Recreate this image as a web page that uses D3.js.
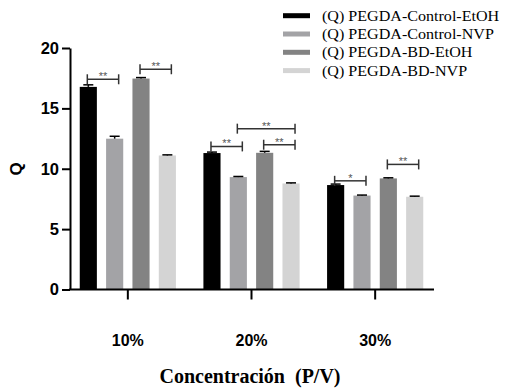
<!DOCTYPE html>
<html><head><meta charset="utf-8">
<script src="https://cdn.jsdelivr.net/npm/d3@7"></script>
<style>body{margin:0;background:#fff}</style>
</head><body>
<svg id="c" width="505" height="388"></svg>
<script>
const categories = ["10%", "20%", "30%"];
const seriesNames = ["(Q) PEGDA-Control-EtOH", "(Q) PEGDA-Control-NVP", "(Q) PEGDA-BD-EtOH", "(Q) PEGDA-BD-NVP"];
const seriesColors = ["#000000", "#a3a3a6", "#838383", "#d4d4d4"];
const controlEtOH = [16.78, 11.30, 8.65];
const controlNVP  = [12.49, 9.31, 7.78];
const bdEtOH      = [17.47, 11.32, 9.20];
const bdNVP       = [11.10, 8.78, 7.68];
const errEtOH     = [0.17, 0.08, 0.08];
const errCNVP     = [0.20, 0.05, 0.04];
const errBdEtOH   = [0.08, 0.12, 0.05];
const errBdNVP    = [0.05, 0.05, 0.05];
const yTicks = [0, 5, 10, 15, 20];
// significance brackets: category index, from series, to series, height (Q), label
const bracketCat  = [0, 0, 1, 1, 1, 2, 2];
const bracketFrom = [0, 2, 0, 1, 2, 0, 2];
const bracketTo   = [1, 3, 1, 3, 3, 1, 3];
const bracketY    = [17.41, 18.24, 11.85, 13.32, 11.99, 9.0, 10.36];
const bracketLbl  = ["**", "**", "**", "**", "**", "*", "**"];

const values = [controlEtOH, controlNVP, bdEtOH, bdNVP];
const errors = [errEtOH, errCNVP, errBdEtOH, errBdNVP];

const svg = d3.select("#c");
const y = d3.scaleLinear().domain([0, 20]).range([289.5, 48]);
const x = d3.scaleBand().domain(categories).range([66, 437]).padding(0);
const xs = d3.scaleBand().domain(d3.range(4)).range([-52.7, 52.7]).paddingInner(0.35).paddingOuter(0.175);
const cx = (c, s) => x(categories[c]) + x.bandwidth() / 2 + xs(s) + xs.bandwidth() / 2;

// bars
const g = svg.append("g");
categories.forEach((cat, c) => {
  values.forEach((arr, s) => {
    const xx = x(cat) + x.bandwidth() / 2 + xs(s);
    g.append("rect").attr("x", xx).attr("y", y(arr[c]))
      .attr("width", xs.bandwidth()).attr("height", y(0) - y(arr[c]))
      .attr("fill", seriesColors[s]);
    const top = y(arr[c] + errors[s][c]);
    const mx = xx + xs.bandwidth() / 2;
    g.append("line").attr("x1", mx).attr("x2", mx).attr("y1", y(arr[c])).attr("y2", top)
      .attr("stroke", "#000").attr("stroke-width", 1.5);
    g.append("line").attr("x1", mx - 5).attr("x2", mx + 5).attr("y1", top).attr("y2", top)
      .attr("stroke", "#000").attr("stroke-width", 1.5);
  });
});

// brackets
bracketCat.forEach((c, i) => {
  const x1 = cx(c, bracketFrom[i]) - 1, x2 = cx(c, bracketTo[i]) + 4;
  const yy = y(bracketY[i]);
  const bg = svg.append("g").attr("stroke", "#333").attr("stroke-width", 1.5);
  bg.append("line").attr("x1", x1).attr("x2", x2).attr("y1", yy).attr("y2", yy);
  bg.append("line").attr("x1", x1).attr("x2", x1).attr("y1", yy - 5).attr("y2", yy + 5);
  bg.append("line").attr("x1", x2).attr("x2", x2).attr("y1", yy - 5).attr("y2", yy + 5);
  svg.append("text").attr("x", (x1 + x2) / 2).attr("y", yy + 1)
    .attr("text-anchor", "middle").attr("font-family", "Liberation Sans, Arial, sans-serif")
    .attr("font-size", 11).attr("fill", "#555").text(bracketLbl[i]);
});

// y axis
const ya = svg.append("g").attr("transform", "translate(70,0)")
  .call(d3.axisLeft(y).tickValues(yTicks).tickSize(8).tickPadding(3).tickSizeOuter(0));
ya.select(".domain").attr("stroke", "#000").attr("stroke-width", 2);
ya.selectAll(".tick line").attr("stroke", "#000").attr("stroke-width", 2);
ya.selectAll(".tick text").attr("font-family", "Liberation Sans, Arial, sans-serif")
  .attr("font-size", 16.5).attr("font-weight", "bold").attr("fill", "#000");

// x axis
const xa = svg.append("g").attr("transform", "translate(0,289.5)")
  .call(d3.axisBottom(x).tickSize(10).tickPadding(35).tickSizeOuter(0));
xa.select(".domain").remove();
xa.append("line").attr("x1", 69).attr("x2", 434).attr("y1", 0).attr("y2", 0)
  .attr("stroke", "#000").attr("stroke-width", 2);
xa.selectAll(".tick line").attr("stroke", "#000").attr("stroke-width", 2);
xa.selectAll(".tick text").attr("font-family", "Liberation Sans, Arial, sans-serif")
  .attr("font-size", 16).attr("font-weight", "bold").attr("fill", "#000");

// titles
svg.append("text").attr("transform", "translate(22,169) rotate(-90)")
  .attr("text-anchor", "middle").attr("font-family", "Liberation Sans, Arial, sans-serif")
  .attr("font-size", 17).attr("font-weight", "bold").text("Q");
svg.append("text").attr("x", 250).attr("y", 383).attr("text-anchor", "middle")
  .attr("font-family", "Liberation Serif, Times New Roman, serif")
  .attr("font-size", 20).attr("font-weight", "bold").attr("xml:space", "preserve")
  .text("Concentración  (P/V)");

// legend
const lg = svg.append("g");
seriesNames.forEach((n, i) => {
  const yy = 15.7 + i * 18.3;
  lg.append("rect").attr("x", 283).attr("y", yy - 2.5).attr("width", 27).attr("height", 5).attr("fill", seriesColors[i]);
  lg.append("text").attr("transform", `translate(322,${yy + 5}) scale(1.11,1)`)
    .attr("font-family", "Liberation Serif, Times New Roman, serif")
    .attr("font-size", 14.5).attr("fill", "#000").text(n);
});
</script>
</body></html>
